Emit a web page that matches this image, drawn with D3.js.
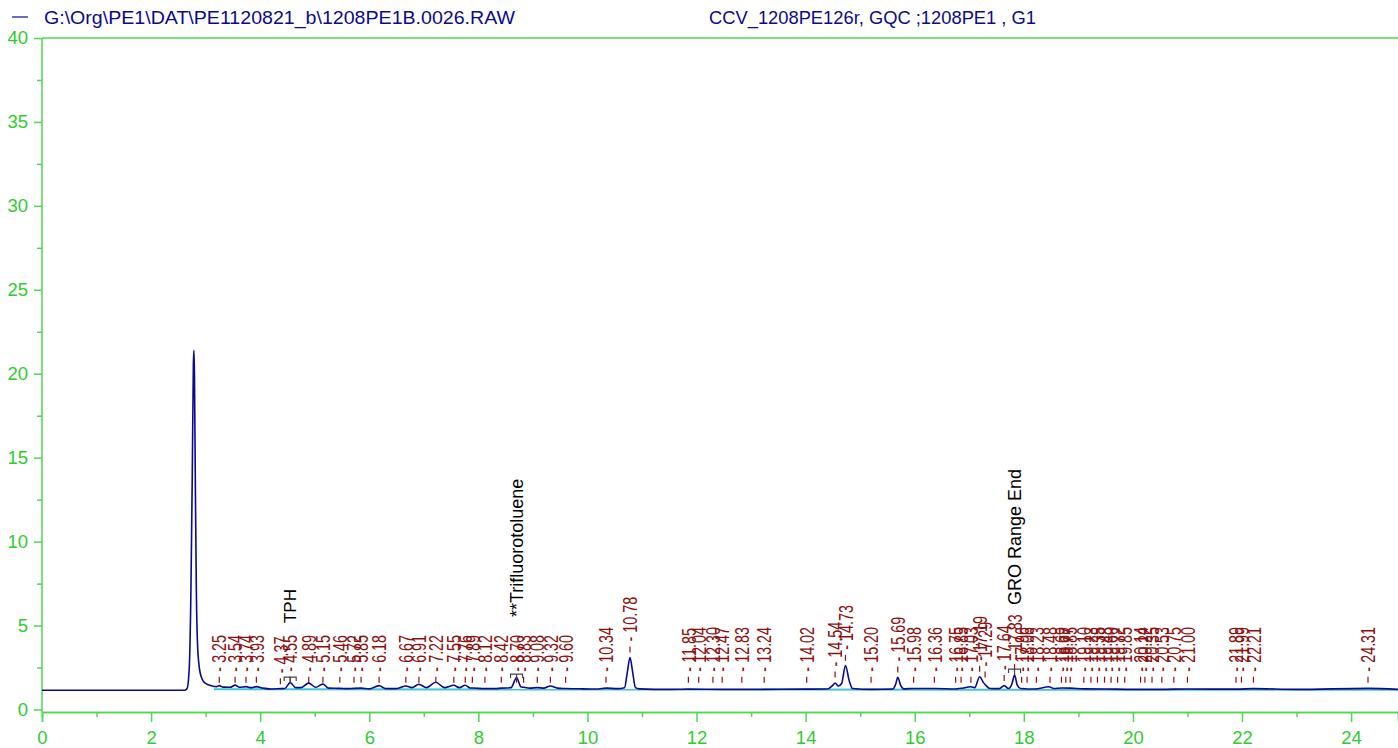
<!DOCTYPE html>
<html><head><meta charset="utf-8">
<script src="https://cdn.jsdelivr.net/npm/d3@7"></script>
<style>
body{margin:0;background:#fff}
svg{display:block}
text{font-family:"Liberation Sans",Arial,Helvetica,sans-serif}
</style>
</head><body>
<svg id="c" width="1398" height="748"></svg>
<script>
// ---------- DATA ----------
const headerFile = "G:\\Org\\PE1\\DAT\\PE1120821_b\\1208PE1B.0026.RAW";
const headerInfo = "CCV_1208PE126r, GQC ;1208PE1 , G1";
const xTicks = [0,2,4,6,8,10,12,14,16,18,20,22,24];
const xMinorTicks = [1,3,5,7,9,11,13,15,17,19,21,23];
const yTicks = [0,5,10,15,20,25,30,35,40];
const yMinorTicks = [2.5,7.5,12.5,17.5,22.5,27.5,32.5,37.5];

const traceTime = [0,2.62,2.66,2.70,2.73,2.755,2.775,2.785,2.795,2.81,2.83,2.85,2.88,2.93,3.00,3.10,3.20,3.25,3.32,3.45,3.54,3.62,3.74,3.83,3.93,4.05,4.20,4.37,4.45,4.55,4.65,4.75,4.89,5.02,5.15,5.25,5.46,5.60,5.72,5.85,6.00,6.18,6.30,6.50,6.67,6.78,6.91,7.05,7.22,7.38,7.55,7.65,7.76,7.85,7.89,8.12,8.30,8.42,8.60,8.70,8.78,8.83,8.95,9.08,9.20,9.32,9.45,9.60,9.90,10.20,10.34,10.55,10.68,10.73,10.78,10.83,10.88,10.95,11.5,11.85,12.5,13.24,14.02,14.40,14.50,14.54,14.60,14.66,14.73,14.80,14.86,15.20,15.60,15.65,15.69,15.74,15.80,15.98,16.36,16.75,16.85,17.03,17.10,17.19,17.26,17.30,17.38,17.55,17.64,17.72,17.78,17.83,17.88,17.94,18.2,18.46,18.55,18.70,18.85,19.1,19.5,20.0,20.5,21.0,21.9,22.21,23.0,24.31,24.86];
const traceSignal = [1.15,1.15,1.25,2.5,7,14,20.5,21.4,20,14,7,4,2.6,1.85,1.55,1.42,1.36,1.42,1.33,1.32,1.45,1.32,1.36,1.3,1.36,1.27,1.22,1.24,1.25,1.6,1.3,1.3,1.57,1.32,1.52,1.27,1.26,1.24,1.26,1.27,1.23,1.42,1.24,1.24,1.4,1.3,1.5,1.3,1.62,1.3,1.44,1.3,1.44,1.28,1.28,1.24,1.24,1.27,1.3,1.9,1.35,1.32,1.27,1.3,1.27,1.4,1.27,1.25,1.23,1.22,1.27,1.24,1.3,2.2,3.1,2.2,1.3,1.23,1.2,1.21,1.2,1.2,1.21,1.22,1.45,1.58,1.4,1.55,2.62,1.7,1.25,1.2,1.22,1.5,1.92,1.45,1.23,1.25,1.25,1.22,1.26,1.35,1.3,1.95,1.6,1.45,1.25,1.24,1.42,1.25,1.5,2.05,1.45,1.25,1.22,1.35,1.25,1.28,1.27,1.23,1.22,1.2,1.2,1.22,1.21,1.24,1.2,1.26,1.2];

const baseTime = [3.15, 24.86];
const baseSignal = [1.2, 1.17];

const peakLabels = ["3.25","3.54","3.74","3.93","4.37","4.55","4.89","5.15","5.46","5.72","5.85","6.18","6.67","6.91","7.22","7.55","7.76","7.89","8.12","8.42","8.70","8.83","9.08","9.32","9.60","10.34","10.78","11.85","12.04","12.30","12.47","12.83","13.24","14.02","14.54","14.73","15.20","15.69","15.98","16.36","16.75","16.85","17.03","17.19","17.29","17.64","17.83","17.96","18.06","18.23","18.48","18.69","18.77","18.85","19.10","19.23","19.35","19.48","19.60","19.72","19.85","20.14","20.22","20.35","20.53","20.75","21.00","21.89","21.99","22.21","24.31"];
const peakHeights = [1.3,1.3,1.3,1.3,1.2,1.3,1.3,1.3,1.3,1.3,1.3,1.3,1.3,1.3,1.3,1.3,1.3,1.3,1.3,1.3,1.3,1.3,1.3,1.3,1.3,1.3,3.1,1.3,1.3,1.3,1.3,1.3,1.3,1.3,1.6,2.6,1.3,1.9,1.3,1.3,1.3,1.3,1.3,1.95,1.6,1.4,2.05,1.3,1.3,1.3,1.3,1.3,1.3,1.3,1.3,1.3,1.3,1.3,1.3,1.3,1.3,1.3,1.3,1.3,1.3,1.3,1.3,1.3,1.3,1.3,1.3];

const annotNames = ["TPH","**Trifluorotoluene","GRO Range End"];
const annotTimes = [4.55, 8.70, 17.83];
const annotHeights = [1.93, 2.11, 2.41];
const annotGap = [54, 57, 64];

// ---------- DRAW ----------
const svg = d3.select("#c");
const green = "#2fcc2f", greenLine = "#4fd84f", navy = "#0a0a8a", red = "#8b1111";
const x = d3.scaleLinear().domain([0, 24.86]).range([42, 1398]);
const y = d3.scaleLinear().domain([-0.15, 40]).range([712, 38]);

// header
svg.append("line").attr("x1",12).attr("x2",28).attr("y1",17).attr("y2",17).attr("stroke",navy).attr("stroke-width",1.2);
svg.append("text").attr("x",44).attr("y",24).attr("font-size",18.5).attr("fill",navy)
  .attr("textLength",471).attr("lengthAdjust","spacingAndGlyphs").text(headerFile);
svg.append("text").attr("x",709).attr("y",24).attr("font-size",18.5).attr("fill",navy)
  .attr("textLength",327).attr("lengthAdjust","spacingAndGlyphs").text(headerInfo);

// axes
const gy = svg.append("g").attr("transform","translate(42,0)")
  .call(d3.axisLeft(y).tickValues(yTicks).tickSize(8).tickPadding(6).tickFormat(d3.format("d")));
const gyMinor = svg.append("g").attr("transform","translate(42,0)")
  .call(d3.axisLeft(y).tickValues(yMinorTicks).tickSize(5).tickFormat(""));
const gx = svg.append("g").attr("transform","translate(0,712)")
  .call(d3.axisBottom(x).tickValues(xTicks).tickSize(10).tickPadding(9).tickFormat(d3.format("d")));
const gxMinor = svg.append("g").attr("transform","translate(0,712)")
  .call(d3.axisBottom(x).tickValues(xMinorTicks).tickSize(5).tickFormat(""));
[gy,gyMinor,gx,gxMinor].forEach(g=>{
  g.selectAll("path.domain").attr("stroke",greenLine).attr("stroke-width",1.5);
  g.selectAll("line").attr("stroke",greenLine).attr("stroke-width",1.5);
  g.selectAll("text").attr("fill",green).attr("font-size",18.5).attr("font-family","Liberation Sans, Arial, sans-serif");
});
gy.selectAll("path.domain").remove(); gyMinor.selectAll("path.domain").remove();
svg.append("line").attr("x1",42).attr("x2",42).attr("y1",y(40)).attr("y2",712).attr("stroke",greenLine).attr("stroke-width",1.5);
svg.append("line").attr("x1",42).attr("x2",1398).attr("y1",y(40)).attr("y2",y(40)).attr("stroke",greenLine).attr("stroke-width",1.5);

// baseline (cyan)
svg.append("path").datum(d3.range(baseTime.length))
  .attr("d", d3.line().x(i=>x(baseTime[i])).y(i=>y(baseSignal[i])))
  .attr("fill","none").attr("stroke","#3cc6d6").attr("stroke-width",2);

// trace
svg.append("path").datum(d3.range(traceTime.length))
  .attr("d", d3.line().curve(d3.curveMonotoneX).x(i=>x(traceTime[i])).y(i=>y(traceSignal[i])))
  .attr("fill","none").attr("stroke",navy).attr("stroke-width",1.6);

// peak labels
peakLabels.forEach((lab,i)=>{
  const px = x(+lab), py = y(peakHeights[i]);
  svg.append("line").attr("x1",px).attr("x2",px).attr("y1",py-11).attr("y2",py-5)
    .attr("stroke",red).attr("stroke-width",1.2);
  svg.append("text").attr("transform",`translate(${px},${py-16}) rotate(-90) scale(0.72,1)`)
    .attr("dy","0.36em").attr("font-size",20).attr("fill",red).text("- " + lab);
});

// annotations
annotNames.forEach((n,i)=>{
  const px = x(annotTimes[i]), py = y(annotHeights[i]);
  const g = svg.append("g").attr("stroke","#444").attr("stroke-width",1.2).attr("fill","none");
  g.append("path").attr("d",`M${px-6},${py+4}V${py}H${px+6}V${py+4}M${px},${py}V${py+6}`);
  svg.append("text").attr("transform",`translate(${px},${py-annotGap[i]}) rotate(-90)`)
    .attr("dy","0.36em").attr("font-size",i===0?17:18).attr("fill","#000").text(n);
});
</script>
</body></html>
